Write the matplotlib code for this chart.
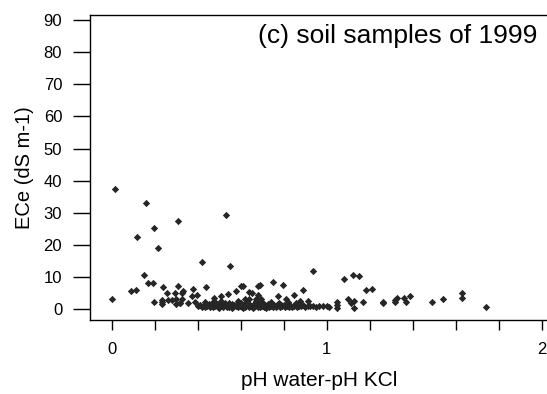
import matplotlib
matplotlib.use("Agg")
import matplotlib.pyplot as plt

plt.rcParams['font.family'] = ['Liberation Sans', 'DejaVu Sans']

# Scattered (readable) points: pH water - pH KCl vs ECe
x_sparse = [0.016, 0.159, 0.311, 0.531, 0.119, 0.199, 0.218, 0.419, 0.551, 0.151,
            0.171, 0.192, 0.091, 0.113, 0.000, 0.199, 0.238, 0.258, 0.236, 0.264,
            0.283, 0.236, 0.295, 0.311, 0.328, 0.300, 0.328, 0.300, 0.319, 0.331,
            0.380, 0.373, 0.396, 0.438, 0.478, 0.508, 0.540, 0.579, 0.600, 0.613,
            0.640, 0.652, 0.681, 0.691, 0.751, 0.798, 0.936, 0.680, 0.776, 0.850,
            0.891, 0.812, 0.878, 0.912, 0.695, 0.672, 0.320, 0.357, 0.388, 0.435,
            1.083, 1.122, 1.150, 1.184, 1.210, 1.047, 1.047, 1.047, 1.100, 1.128,
            1.112, 1.128, 1.170, 1.263, 1.263, 1.320, 1.330, 1.318, 1.362, 1.370,
            1.388, 1.489, 1.542, 1.629, 1.629, 1.742, 0.233, 0.620, 0.640]
y_sparse = [37.4, 32.9, 27.5, 29.4, 22.6, 25.3, 19.1, 14.6, 13.3, 10.6,
            8.0, 8.0, 5.6, 5.8, 3.1, 2.3, 6.8, 4.9, 2.8, 2.8,
            2.8, 1.5, 4.9, 7.2, 5.1, 3.1, 3.1, 1.5, 1.8, 5.7,
            6.2, 4.0, 4.5, 6.8, 3.5, 4.0, 4.6, 5.7, 7.3, 7.3,
            5.3, 4.9, 7.3, 7.6, 8.4, 7.6, 11.9, 4.5, 4.0, 4.5,
            5.8, 3.0, 2.6, 2.6, 3.0, 3.0, 1.8, 1.8, 2.1, 2.1,
            9.3, 10.7, 10.2, 5.8, 6.2, 2.1, 1.2, 0.3, 3.1, 2.5,
            1.8, 0.4, 2.2, 2.3, 1.9, 2.8, 3.3, 2.2, 3.6, 2.2,
            4.0, 2.2, 3.0, 5.1, 3.5, 0.8, 2.3, 3.0, 3.2]

# Dense band of low-ECe samples
x_band = [0.400, 0.412, 0.420, 0.428, 0.436, 0.445, 0.452, 0.460, 0.466, 0.474,
          0.480, 0.488, 0.494, 0.500, 0.506, 0.512, 0.518, 0.524, 0.530, 0.536,
          0.542, 0.548, 0.554, 0.560, 0.566, 0.572, 0.578, 0.584, 0.590, 0.596,
          0.602, 0.608, 0.614, 0.620, 0.626, 0.632, 0.638, 0.644, 0.650, 0.656,
          0.662, 0.668, 0.674, 0.680, 0.686, 0.692, 0.698, 0.704, 0.710, 0.716,
          0.722, 0.728, 0.734, 0.740, 0.746, 0.752, 0.758, 0.764, 0.770, 0.776,
          0.782, 0.788, 0.794, 0.800, 0.808, 0.816, 0.824, 0.832, 0.840, 0.848,
          0.856, 0.864, 0.872, 0.880, 0.890, 0.900, 0.912, 0.924, 0.936, 0.950,
          0.966, 0.982, 1.000, 1.010, 0.470, 0.510, 0.546, 0.590, 0.630, 0.672,
          0.700, 0.740, 0.780, 0.820, 0.860, 0.500, 0.560, 0.610, 0.660, 0.720]
y_band = [1.0, 1.4, 0.7, 1.2, 0.5, 1.0, 1.6, 0.8, 1.3, 0.6,
          1.1, 1.8, 0.7, 1.2, 0.9, 1.5, 0.6, 1.1, 2.0, 0.8,
          1.3, 0.5, 1.0, 1.7, 0.7, 1.2, 0.9, 1.5, 0.6, 1.1,
          1.9, 0.8, 1.3, 0.5, 1.0, 1.6, 0.7, 1.2, 0.9, 1.4,
          0.6, 1.1, 1.8, 0.8, 1.3, 0.5, 1.0, 1.5, 0.7, 1.2,
          0.9, 1.6, 0.6, 1.1, 1.4, 0.8, 1.2, 0.5, 1.0, 1.7,
          0.7, 1.2, 0.9, 1.4, 0.6, 1.1, 0.8, 1.3, 0.5, 1.0,
          1.2, 0.7, 1.1, 0.9, 1.3, 0.8, 1.0, 0.9, 1.1, 0.8,
          1.0, 0.9, 1.1, 0.8, 2.2, 2.4, 2.0, 2.6, 2.2, 2.5,
          2.1, 2.3, 2.0, 2.2, 1.9, 0.4, 0.4, 0.4, 0.4, 0.4]

x_ticks = [0.0, 0.2, 0.4, 0.6, 0.8, 1.0, 1.2, 1.4, 1.6, 1.8, 2.0]
x_tick_labels = ['0', '', '', '', '', '1', '', '', '', '', '2']
y_ticks = [0, 10, 20, 30, 40, 50, 60, 70, 80, 90]

W, H = 547, 394
fig = plt.figure(figsize=(W / 100, H / 100), dpi=100)
ax = fig.add_axes([90 / W, 1 - 320 / H, (563 - 90) / W, (320 - 15) / H])

ax.scatter(x_sparse + x_band, y_sparse + y_band, marker='D', s=14,
           color='#262626', linewidths=0, zorder=3)

ax.set_xlim(-0.1, 2.1)
ax.set_ylim(-3.4, 91.6)
ax.set_xticks(x_ticks)
ax.set_xticklabels(x_tick_labels)
ax.set_yticks(y_ticks)

for s in ['left', 'top', 'bottom']:
    ax.spines[s].set_linewidth(1.0)
    ax.spines[s].set_color('black')
ax.spines['right'].set_visible(False)

ax.tick_params(axis='y', length=12, width=1, pad=8, labelsize=12)
ax.tick_params(axis='x', length=7.5, width=1, pad=8, labelsize=12)

ax.set_xlabel('pH water-pH KCl', fontsize=15, va='baseline')
ax.xaxis.set_label_coords((319 - 90) / 473, (320 - 386) / 305)
ax.set_ylabel('ECe (dS m-1)', fontsize=14.5, va='baseline')
ax.yaxis.set_label_coords((30 - 90) / 473, (320 - 168) / 305)

ax.text(1.979, 82.9, '(c) soil samples of 1999', ha='right', va='baseline',
        fontsize=19)

fig.savefig('out.png', dpi=100)
